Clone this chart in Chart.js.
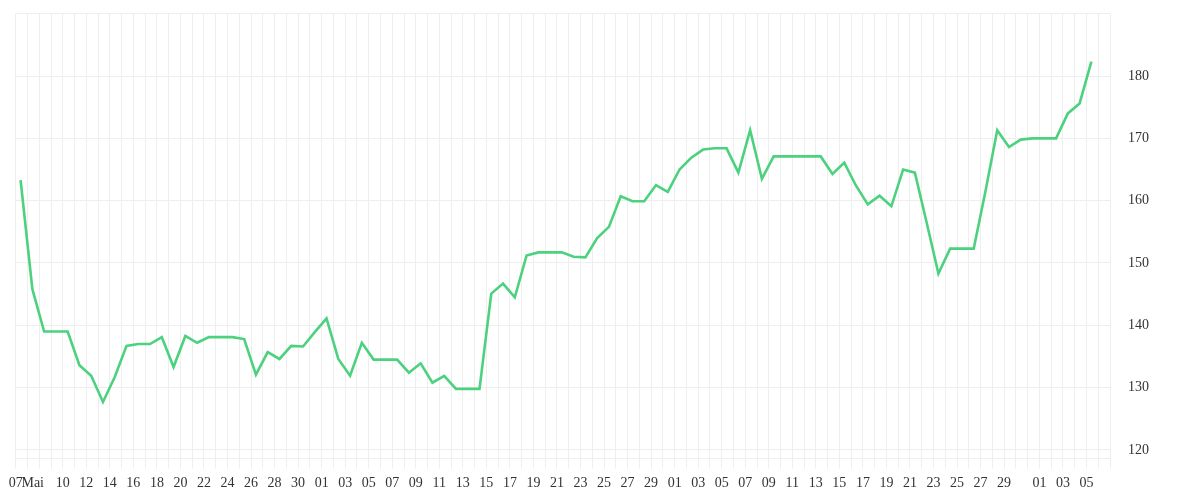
<!DOCTYPE html>
<html>
<head>
<meta charset="utf-8">
<script src="https://cdn.jsdelivr.net/npm/chart.js@4/dist/chart.umd.min.js"></script>
<style>
  html, body { margin: 0; padding: 0; background: #fff; }
  #wrap { width: 1200px; height: 500px; position: relative; }
</style>
</head>
<body>
<div id="wrap"><canvas id="chart"></canvas></div>
<script>
// daily closing values, first sample on day 0 (07 Mai)
const values = [
  163.3, 145.8, 139.0, 139.0, 139.0, 133.6, 131.9, 127.7, 131.7, 136.7,
  137.0, 137.0, 138.1, 133.3, 138.3, 137.2, 138.1, 138.1, 138.1, 137.8,
  132.1, 135.7, 134.6, 136.7, 136.6, 138.9, 141.1, 134.6, 131.9, 137.2,
  134.5, 134.5, 134.5, 132.4, 133.9, 130.8, 131.9, 129.8, 129.8, 129.8,
  145.1, 146.7, 144.5, 151.2, 151.7, 151.7, 151.7, 151.0, 150.9, 154.0,
  155.8, 160.7, 159.9, 159.9, 162.5, 161.4, 165.0, 166.9, 168.2, 168.4,
  168.4, 164.5, 171.3, 163.5, 167.1, 167.1, 167.1, 167.1, 167.1, 164.3,
  166.1, 162.4, 159.4, 160.8, 159.1, 165.0, 164.5, 156.5, 148.3, 152.3,
  152.3, 152.3, 161.5, 171.3, 168.6, 169.8, 170.0, 170.0, 170.0, 174.0,
  175.6, 182.3
];
const sampleHour = 10; // samples taken mid-morning

// x axis tick labels (day number -> text)
const tickDays = [0, 1, 4, 6, 8, 10, 12, 14, 16, 18, 20, 22, 24,
  26, 28, 30, 32, 34, 36, 38, 40, 42, 44, 46, 48, 50, 52, 54,
  56, 58, 60, 62, 64, 66, 68, 70, 72, 74, 76, 78, 80, 82, 84,
  87, 89, 91];
const tickText = ["07", "   Mai", "10", "12", "14", "16", "18", "20", "22", "24", "26", "28", "30",
  "01", "03", "05", "07", "09", "11", "13", "15", "17", "19", "21", "23", "25", "27", "29",
  "01", "03", "05", "07", "09", "11", "13", "15", "17", "19", "21", "23", "25", "27", "29",
  "01", "03", "05"];
const lastDay = 93;
const yTicks = [120, 130, 140, 150, 160, 170, 180, 190];

const points = values.map((v, i) => ({ x: i + sampleHour / 24, y: v }));
const gridColor = "#eeeeee";
const tickFont = { family: "'Liberation Serif', serif", size: 14 };

new Chart(document.getElementById("chart"), {
  type: "line",
  data: {
    datasets: [{
      data: points,
      borderColor: "#4cd17f",
      borderWidth: 2.6,
      pointRadius: 0,
      tension: 0,
      fill: false
    }]
  },
  options: {
    responsive: true,
    maintainAspectRatio: false,
    animation: false,
    layout: { padding: { left: 15.7, top: 13.7, right: 0, bottom: 0 } },
    plugins: { legend: { display: false }, tooltip: { enabled: false } },
    scales: {
      x: {
        type: "linear",
        min: 0,
        max: lastDay,
        afterBuildTicks: s => {
          s.ticks = [];
          for (let d = 0; d <= lastDay; d++) s.ticks.push({ value: d });
        },
        afterFit: s => { s.height = 41.3; },
        grid: { color: gridColor, lineWidth: 1, drawTicks: true, tickLength: 10 },
        border: { display: true, color: gridColor },
        ticks: {
          autoSkip: false,
          maxRotation: 0,
          padding: 6,
          color: "#333",
          font: tickFont,
          callback: v => {
            const k = tickDays.indexOf(v);
            return k >= 0 ? tickText[k] : "";
          }
        }
      },
      y: {
        position: "right",
        min: 118.6,
        max: 190,
        afterBuildTicks: s => { s.ticks = yTicks.map(v => ({ value: v })); },
        afterFit: s => { s.width = 90; },
        // invisible tick marks push the labels away from the plot
        grid: { color: gridColor, lineWidth: 1, drawTicks: true, tickLength: 18, tickColor: "rgba(0,0,0,0)" },
        border: { display: false },
        ticks: {
          padding: 0,
          color: "#333",
          font: tickFont,
          callback: v => (v === 190 ? "" : v)
        }
      }
    }
  }
});
</script>
</body>
</html>
